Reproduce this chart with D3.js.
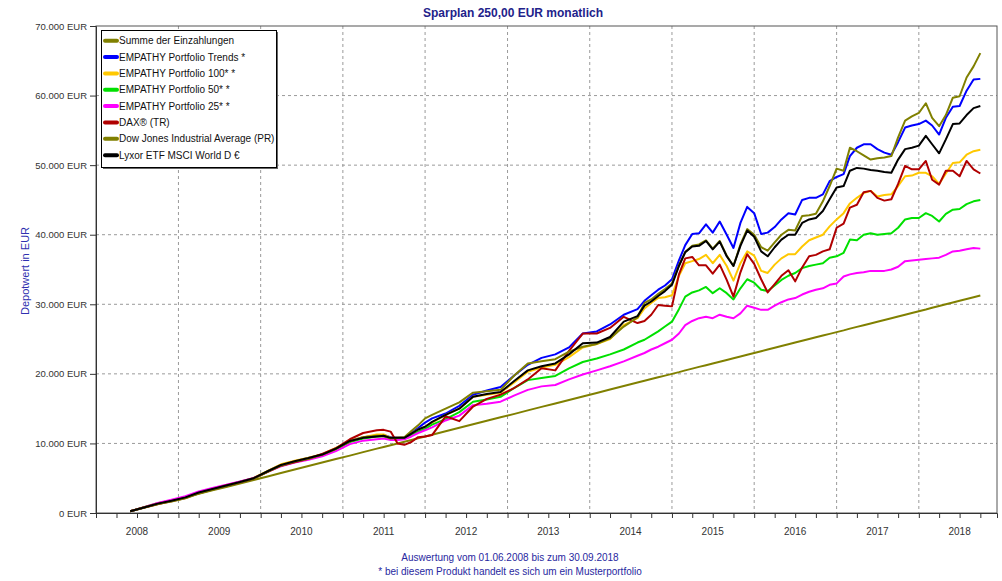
<!DOCTYPE html>
<html>

<head>
    <meta charset="utf-8">
    <style>
        body {
            margin: 0;
            background: #fff;
        }

        svg {
            display: block;
            font-family: "Liberation Sans", Arial, sans-serif;
        }

        .x .domain,
        .y .domain {
            stroke: #333;
        }

        .x .tick line,
        .y .tick line {
            stroke: #333;
        }

        .y .tick text {
            font-size: 9.5px;
            fill: #333;
        }

        .grid line {
            stroke: #9a9a9a;
            stroke-dasharray: 3, 3;
        }
    </style>
</head>

<body>
    <svg width="1002" height="581"></svg>

    <script src="https://d3js.org/d3.v7.min.js"></script>
    <script>
        // months of the series (monthly where the lines move a lot, every 2nd month where they are calm)
        // the last point "2018-10" stands for 30.09.2018
        const months = [
            "2008-06", "2008-08", "2008-10", "2008-12", "2009-02", "2009-04", "2009-06", "2009-08", "2009-10", "2009-12",
            "2010-02", "2010-04", "2010-06", "2010-08", "2010-10", "2010-12", "2011-02", "2011-04",
            "2011-06", "2011-07", "2011-08", "2011-09", "2011-10", "2011-11", "2011-12", "2012-01", "2012-02",
            "2012-04", "2012-06", "2012-08", "2012-10", "2012-12", "2013-02", "2013-04", "2013-06", "2013-08",
            "2013-10", "2013-12", "2014-02", "2014-04", "2014-06", "2014-08",
            "2014-09", "2014-10", "2014-11", "2014-12",
            "2015-01", "2015-02", "2015-03", "2015-04", "2015-05", "2015-06", "2015-07", "2015-08", "2015-09", "2015-10", "2015-11", "2015-12",
            "2016-01", "2016-02", "2016-03", "2016-04", "2016-05", "2016-06", "2016-07", "2016-08", "2016-09", "2016-10", "2016-11", "2016-12",
            "2017-01", "2017-02", "2017-03", "2017-04", "2017-05", "2017-06", "2017-07", "2017-08", "2017-09", "2017-10", "2017-11", "2017-12",
            "2018-01", "2018-02", "2018-03", "2018-04", "2018-05", "2018-06", "2018-07", "2018-08", "2018-09", "2018-10"
        ]

        const summe = [
            250, 750, 1250, 1750, 2250, 2750, 3250, 3750, 4250, 4750, 5250, 5750, 6250, 6750, 7250, 7750, 8250, 8750,
            9250, 9500, 9750, 10000, 10250, 10500, 10750, 11000, 11250,
            11750, 12250, 12750, 13250, 13750, 14250, 14750, 15250, 15750, 16250, 16750, 17250, 17750, 18250, 18750,
            19000, 19250, 19500, 19750, 20000, 20250, 20500, 20750, 21000, 21250,
            21500, 21750, 22000, 22250, 22500, 22750, 23000, 23250, 23500, 23750,
            24000, 24250, 24500, 24750, 25000, 25250, 25500, 25750, 26000, 26250,
            26500, 26750, 27000, 27250, 27500, 27750, 28000, 28250, 28500, 28750,
            29000, 29250, 29500, 29750, 30000, 30250, 30500, 30750, 31000, 31250
        ]

        const trends = [
            250, 800, 1350, 1750, 2250, 2950, 3450, 3950, 4450, 5000, 6000, 6900, 7450, 7900, 8400, 9300, 10400, 10900,
            11100, 11200, 10900, 10800, 10800, 11500, 12200, 13000, 13600,
            14300, 15400, 17000, 17600, 18100, 19800, 21300, 22300, 22800, 23800, 25800, 26100, 27100, 28500, 29300,
            30500, 31300, 32100, 32700, 33600, 36300, 38500, 40100, 40200, 41500, 40300, 41900, 40000, 38100,
            41700, 44000, 43100, 40100, 40300, 41100, 42200, 43100, 42900, 45000, 45300, 45300, 45800, 47700,
            48300, 48700, 51300, 52500, 53000, 53000, 52300, 51800, 51500, 53300, 55400, 55700,
            55900, 56400, 55700, 54400, 56800, 58400, 58500, 60700, 62300, 62400
        ]

        const p100 = [
            250, 820, 1400, 1800, 2300, 3000, 3500, 4000, 4500, 5050, 6050, 7000, 7500, 7950, 8450, 9350, 10400, 10900,
            11300, 11300, 10800, 10800, 10800, 11400, 12000, 12400, 13000,
            14100, 15000, 16700, 17000, 17300, 18800, 20300, 20900, 21300, 22400, 23800, 24300, 25000, 27000, 28000,
            29400, 30200, 30900, 31000, 31300, 34100, 35900, 36200, 36500, 37100, 35900, 37100, 35500, 33400,
            35900, 37600, 37000, 34800, 34500, 35700, 36600, 37200, 37200, 38300, 39200, 39600, 40000, 41200,
            42200, 43100, 44500, 45300, 46000, 46300, 45500, 45700, 45800, 47000, 48400, 48500,
            48900, 48900, 48400, 47300, 48800, 50300, 50400, 51500, 52000, 52200
        ]

        const p50 = [
            250, 820, 1400, 1800, 2300, 3000, 3500, 4000, 4500, 5000, 5950, 6800, 7350, 7800, 8300, 9150, 10200, 10700,
            11000, 11000, 10700, 10700, 10700, 11200, 11700, 12100, 12700,
            13500, 14500, 16000, 16300, 16700, 18000, 19100, 19400, 19700, 20800, 21700, 22200, 22800, 23500, 24500,
            24900, 25500, 26100, 26800, 27500, 29300, 31100, 31700, 32000, 32500, 31600, 32300, 31600, 30700,
            32300, 33600, 33100, 32100, 31900, 32700, 33500, 34100, 34500, 35200, 35500, 35700, 35900, 36700,
            36900, 37400, 39300, 39200, 40000, 40200, 40000, 40100, 40200, 41000, 42200, 42400,
            42400, 43100, 42700, 41900, 43000, 43600, 43700, 44400, 44800, 45000
        ]

        const p25 = [
            250, 850, 1450, 1900, 2400, 3100, 3600, 4050, 4550, 5050, 5900, 6700, 7250, 7650, 8150, 8900, 9900, 10400,
            10600, 10700, 10500, 10500, 10600, 11000, 11500, 11900, 12300,
            13300, 14000, 15500, 15700, 16000, 16900, 17700, 18200, 18400, 19200, 19900, 20500, 21100, 21800, 22600,
            23000, 23500, 23900, 24400, 24900, 25800, 27000, 27600, 28000, 28200, 28000, 28500, 28200, 28000,
            28700, 29800, 29500, 29200, 29200, 29800, 30300, 30700, 30900, 31400, 31800, 32100, 32300, 32800,
            33000, 34000, 34300, 34500, 34600, 34800, 34800, 34800, 35000, 35400, 36200, 36300,
            36400, 36500, 36600, 36700, 37100, 37600, 37700, 37900, 38100, 38000
        ]

        const dax = [
            250, 780, 1300, 1700, 2150, 2850, 3400, 3950, 4400, 4950, 5900, 6800, 7300, 7800, 8500, 9300, 10600, 11500,
            11900, 11950, 11700, 10000, 9800, 10200, 10900, 11000, 11200,
            13900, 13200, 15300, 16400, 17000, 18000, 19200, 20800, 20500, 23300, 25800, 25800, 26600, 28200, 27300,
            27600, 28500, 29900, 29800, 29700, 34300, 36600, 36800, 35600, 35600, 34400, 35700, 33500, 31100,
            34600, 37200, 35800, 33600, 31700, 32900, 34100, 34900, 33300, 35300, 36900, 37100, 37600, 37900,
            41000, 41600, 43900, 44300, 46100, 46300, 45300, 44900, 45100, 47300, 49900, 49400,
            49400, 50600, 47900, 47200, 49200, 49200, 48400, 50600, 49400, 48800
        ]

        const dowJones = [
            250, 780, 1300, 1650, 2100, 2800, 3350, 3900, 4400, 4950, 5900, 6800, 7400, 7800, 8350, 9200, 10300, 10900,
            11100, 11100, 10700, 10800, 10900, 11800, 12600, 13600, 14100,
            15000, 15900, 17300, 17500, 17700, 19800, 21500, 21800, 22100, 23200, 23900, 24300, 25100, 26800, 28100,
            30200, 30700, 31500, 32200, 33000, 35600, 37500, 38400, 38600, 39200, 38000, 39100, 37000, 35500,
            38600, 40800, 40000, 38200, 37700, 38900, 40000, 40700, 40600, 42700, 42800, 43000, 44800, 47000,
            49500, 49200, 52500, 52000, 51400, 50800, 51000, 51100, 51300, 54000, 56400, 57000,
            57500, 58900, 56800, 55600, 57200, 59700, 59900, 62600, 64200, 66100
        ]

        const lyxor = [
            250, 800, 1350, 1750, 2250, 2950, 3450, 3950, 4450, 5000, 6000, 6900, 7450, 7900, 8400, 9250, 10350, 10800,
            11000, 11100, 10800, 10800, 10800, 11400, 12000, 12400, 13100,
            14100, 15000, 16700, 17100, 17400, 19000, 20500, 21100, 21500, 22800, 24400, 24500, 25300, 27500, 28300,
            29800, 30400, 31200, 31900, 32800, 35500, 37500, 38300, 38400, 39100, 37900, 39000, 36900, 35500,
            38400, 40600, 39700, 37600, 36900, 38200, 39300, 40000, 40000, 41700, 42200, 42400, 43400, 45100,
            46800, 47000, 49200, 49600, 49500, 49300, 49200, 49000, 48900, 50800, 52300, 52500,
            52800, 54200, 53000, 51700, 53700, 55900, 56000, 57200, 58200, 58500
        ]

        const seriesNames = [
            "Summe der Einzahlungen",
            "EMPATHY Portfolio Trends *",
            "EMPATHY Portfolio 100* *",
            "EMPATHY Portfolio 50* *",
            "EMPATHY Portfolio 25* *",
            "DAX® (TR)",
            "Dow Jones Industrial Average (PR)",
            "Lyxor ETF MSCI World D €"
        ]

        const years = [2008, 2009, 2010, 2011, 2012, 2013, 2014, 2015, 2016, 2017, 2018]
        const yTicks = [0, 10000, 20000, 30000, 40000, 50000, 60000, 70000]

        // colours per series, same order as seriesNames
        const colors = ["#808000", "#0000ff", "#ffc800", "#00e000", "#ff00ff", "#b00000", "#808000", "#000000"]

        const valueLists = [summe, trends, p100, p50, p25, dax, dowJones, lyxor]
        const parseMonth = d3.timeParse("%Y-%m")

        let series = seriesNames.map(function (name, i) {
            return {
                name: name,
                color: colors[i],
                values: valueLists[i].map(function (v, j) {
                    return { date: parseMonth(months[j]), value: v }
                })
            }
        })

        let svg = d3.select("svg")

        let margin = { top: 26, right: 5, bottom: 68, left: 96 }
        let width = 1002
        let height = 581

        let x = d3.scaleTime()
            .domain([new Date(2008, 0, 1), new Date(2018, 11, 14)])
            .range([margin.left, width - margin.right])

        let y = d3.scaleLinear()
            .domain([0, 70000])
            .range([height - margin.bottom, margin.top])

        // german number format: 70.000 EUR
        let de = d3.formatLocale({ decimal: ",", thousands: ".", grouping: [3], currency: ["", " €"] })
        let fmt = de.format(",.0f")

        // dashed grid
        let grid = svg.append("g").attr("class", "grid")

        grid.selectAll(".vgrid")
            .data(years.slice(1))
            .join("line")
            .attr("x1", d => x(new Date(d, 0, 1)))
            .attr("x2", d => x(new Date(d, 0, 1)))
            .attr("y1", y(70000))
            .attr("y2", y(0))

        grid.selectAll(".hgrid")
            .data(yTicks.filter(d => d > 0 && d < 70000))
            .join("line")
            .attr("x1", x.range()[0])
            .attr("x2", x.range()[1])
            .attr("y1", d => y(d))
            .attr("y2", d => y(d))

        // frame top / right
        svg.append("rect")
            .attr("x", x.range()[0])
            .attr("y", y(70000))
            .attr("width", x.range()[1] - x.range()[0])
            .attr("height", y(0) - y(70000))
            .style("fill", "none")
            .style("stroke", "#555")

        // axes
        let yAxisSettings = d3.axisLeft(y)
            .tickValues(yTicks)
            .tickSize(6)
            .tickPadding(3)
            .tickFormat(d => fmt(d) + " EUR")

        svg.append("g")
            .attr("class", "y axis")
            .attr("transform", `translate(${margin.left},0)`)
            .call(yAxisSettings)

        let xAxisSettings = d3.axisBottom(x)
            .ticks(d3.timeMonth.every(3))
            .tickSize(5)
            .tickFormat("")

        svg.append("g")
            .attr("class", "x axis")
            .attr("transform", `translate(0,${y(0)})`)
            .call(xAxisSettings)

        // year labels in the middle of each year
        svg.append("g")
            .selectAll("text")
            .data(years)
            .join("text")
            .attr("x", d => x(new Date(d, 6, 1)))
            .attr("y", 535)
            .attr("text-anchor", "middle")
            .style("font-size", "10px")
            .style("fill", "#333")
            .text(d => d)

        // lines
        let line = d3.line()
            .x(d => x(d.date))
            .y(d => y(d.value))

        svg.append("g")
            .selectAll("path")
            .data(series)
            .join("path")
            .attr("d", d => line(d.values))
            .style("fill", "none")
            .style("stroke", d => d.color)
            .style("stroke-width", "2px")
            .style("stroke-linejoin", "round")

        // legend box with little shadow
        let lg = svg.append("g")

        lg.append("rect")
            .attr("x", 103)
            .attr("y", 32)
            .attr("width", 175)
            .attr("height", 137)
            .style("fill", "#666")

        lg.append("rect")
            .attr("x", 101.5)
            .attr("y", 30.5)
            .attr("width", 175)
            .attr("height", 137)
            .style("fill", "#fff")
            .style("stroke", "#000")

        let rows = lg.selectAll(".row")
            .data(series)
            .join("g")
            .attr("transform", (d, i) => `translate(0,${40.7 + i * 16.35})`)

        rows.append("line")
            .attr("x1", 105)
            .attr("x2", 117)
            .style("stroke", d => d.color)
            .style("stroke-width", "4px")
            .style("stroke-linecap", "round")

        rows.append("text")
            .attr("x", 119)
            .attr("dy", "0.35em")
            .style("font-size", "10px")
            .style("fill", "#111")
            .text(d => d.name)

        // titles
        svg.append("text")
            .attr("x", 513)
            .attr("y", 17)
            .attr("text-anchor", "middle")
            .style("font-size", "12px")
            .style("font-weight", "bold")
            .style("fill", "#22228a")
            .text("Sparplan 250,00 EUR monatlich")

        svg.append("text")
            .attr("transform", "translate(29,271) rotate(-90)")
            .attr("text-anchor", "middle")
            .style("font-size", "11px")
            .style("fill", "#3030b0")
            .text("Depotwert in EUR")

        svg.append("text")
            .attr("x", 510)
            .attr("y", 561)
            .attr("text-anchor", "middle")
            .style("font-size", "10px")
            .style("fill", "#2828a0")
            .text("Auswertung vom 01.06.2008 bis zum 30.09.2018")

        svg.append("text")
            .attr("x", 510)
            .attr("y", 575)
            .attr("text-anchor", "middle")
            .style("font-size", "10px")
            .style("fill", "#2828a0")
            .text("* bei diesem Produkt handelt es sich um ein Musterportfolio")
    </script>
</body>

</html>
